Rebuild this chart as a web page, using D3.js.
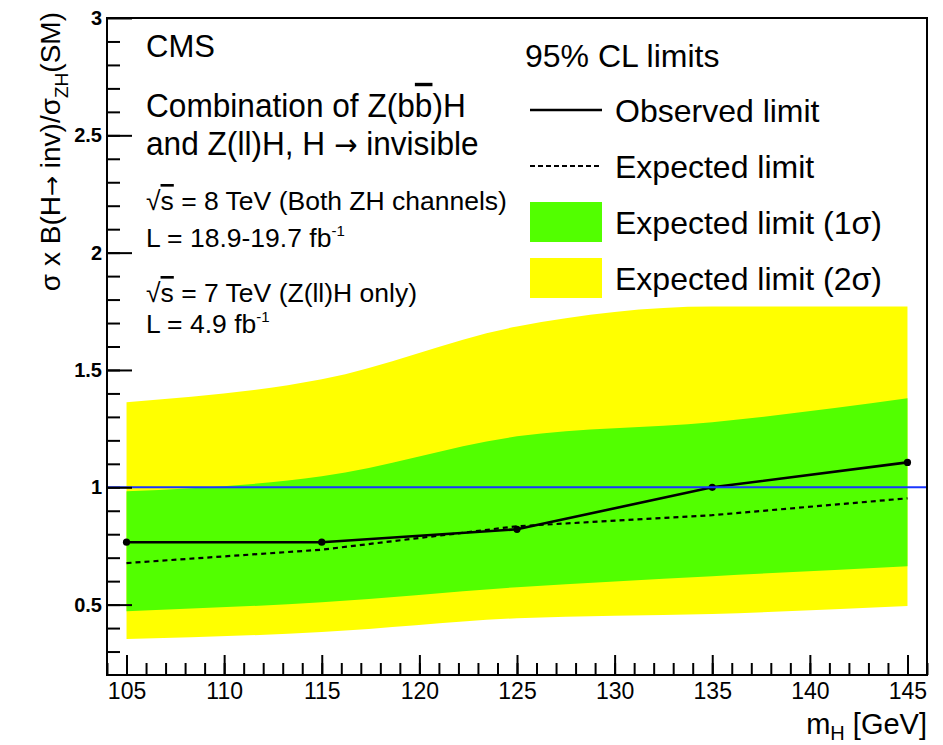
<!DOCTYPE html>
<html>
<head>
<meta charset="utf-8">
<script src="https://cdn.jsdelivr.net/npm/d3@7"></script>
<style>
  html, body { margin: 0; padding: 0; background: #fff; }
  svg { display: block; font-family: "Liberation Sans", Arial, Helvetica, sans-serif; }
</style>
</head>
<body>
<svg id="chart" width="943" height="745"></svg>
<script>
// Higgs mass hypotheses (GeV)
const massPoints = [105, 115, 125, 135, 145];
// 95% CL limits on sigma x B(H -> inv) / sigma_ZH(SM)
const observedLimit = [0.766, 0.766, 0.821, 1.0, 1.106];
const expectedLimit = [0.677, 0.734, 0.834, 0.881, 0.953];
const oneSigmaLow  = [0.472, 0.510, 0.574, 0.621, 0.664];
const oneSigmaHigh = [0.983, 1.047, 1.217, 1.277, 1.379];
const twoSigmaLow  = [0.353, 0.383, 0.442, 0.460, 0.494];
const twoSigmaHigh = [1.362, 1.460, 1.685, 1.770, 1.770];
const smLevel = 1;
// axis ticks
const xTickValues = [105, 110, 115, 120, 125, 130, 135, 140, 145];
const xTickLabels = ["105", "110", "115", "120", "125", "130", "135", "140", "145"];
const yTickValues = [0.5, 1, 1.5, 2, 2.5, 3];
const yTickLabels = ["0.5", "1", "1.5", "2", "2.5", "3"];

const svg = d3.select("#chart");
const frame = { left: 107, top: 18, right: 927, bottom: 675 };

const x = d3.scaleLinear().domain([104, 146]).range([frame.left, frame.right]);
const y = d3.scaleLinear().domain([0.2, 3]).range([frame.bottom, frame.top]);

const rows = massPoints.map((m, i) => ({
  m, obs: observedLimit[i], exp: expectedLimit[i],
  lo1: oneSigmaLow[i], hi1: oneSigmaHigh[i],
  lo2: twoSigmaLow[i], hi2: twoSigmaHigh[i]
}));

const plot = svg.append("g");

// uncertainty bands
const band = (lo, hi) => d3.area()
  .x(d => x(d.m)).y0(d => y(d[lo])).y1(d => y(d[hi]))
  .curve(d3.curveMonotoneX);

plot.append("path").datum(rows).attr("d", band("lo2", "hi2")).attr("fill", "#ffff00");
plot.append("path").datum(rows).attr("d", band("lo1", "hi1")).attr("fill", "#52ff00");

// expected limit
plot.append("path").datum(rows)
  .attr("d", d3.line().x(d => x(d.m)).y(d => y(d.exp)))
  .attr("fill", "none").attr("stroke", "#000").attr("stroke-width", 2.2)
  .attr("stroke-dasharray", "5,4");

// observed limit
plot.append("path").datum(rows)
  .attr("d", d3.line().x(d => x(d.m)).y(d => y(d.obs)))
  .attr("fill", "none").attr("stroke", "#000").attr("stroke-width", 2.6);
plot.selectAll("circle.obs").data(rows).enter().append("circle")
  .attr("class", "obs")
  .attr("cx", d => x(d.m)).attr("cy", d => y(d.obs)).attr("r", 3.6).attr("fill", "#000");

// SM reference line
plot.append("line")
  .attr("x1", frame.left).attr("x2", frame.right)
  .attr("y1", y(smLevel)).attr("y2", y(smLevel))
  .attr("stroke", "#1a35ff").attr("stroke-width", 2);

// axes
const yMinor = d3.range(3, 30).map(v => v / 10);
const xMinor = d3.range(104, 147);

svg.append("g").attr("transform", `translate(${frame.left},0)`)
  .call(d3.axisLeft(y).tickValues(yMinor).tickSize(-13).tickFormat(""))
  .call(g => g.select(".domain").remove())
  .call(g => g.selectAll("line").attr("stroke", "#000").attr("stroke-width", 2));

svg.append("g").attr("transform", `translate(${frame.left},0)`)
  .call(d3.axisLeft(y).tickValues(yTickValues).tickSize(-25).tickPadding(5)
    .tickFormat((d, i) => yTickLabels[i]))
  .call(g => g.select(".domain").remove())
  .call(g => g.selectAll("line").attr("stroke", "#000").attr("stroke-width", 2))
  .call(g => g.selectAll("text").attr("font-size", 20).attr("font-weight", 600)
    .attr("fill", "#000").attr("font-family", "'Liberation Sans', Arial, sans-serif"));

svg.append("g").attr("transform", `translate(0,${frame.bottom})`)
  .call(d3.axisBottom(x).tickValues(xMinor).tickSize(-12).tickFormat(""))
  .call(g => g.select(".domain").remove())
  .call(g => g.selectAll("line").attr("stroke", "#000").attr("stroke-width", 2));

svg.append("g").attr("transform", `translate(0,${frame.bottom})`)
  .call(d3.axisBottom(x).tickValues(xTickValues).tickSize(-20).tickPadding(8)
    .tickFormat((d, i) => xTickLabels[i]))
  .call(g => g.select(".domain").remove())
  .call(g => g.selectAll("line").attr("stroke", "#000").attr("stroke-width", 2))
  .call(g => g.selectAll("text").attr("font-size", 23)
    .attr("fill", "#000").attr("font-family", "'Liberation Sans', Arial, sans-serif"));

// frame
svg.append("rect")
  .attr("x", frame.left).attr("y", frame.top)
  .attr("width", frame.right - frame.left).attr("height", frame.bottom - frame.top)
  .attr("fill", "none").attr("stroke", "#000").attr("stroke-width", 2);

// axis titles
const xTitle = svg.append("text")
  .attr("x", frame.right).attr("y", 734)
  .attr("text-anchor", "end").attr("font-size", 29).attr("fill", "#000");
xTitle.append("tspan").text("m");
xTitle.append("tspan").attr("font-size", 20).attr("dy", 6).text("H");
xTitle.append("tspan").attr("dy", -6).text(" [GeV]");

const arrowFont = "'DejaVu Sans', 'Liberation Sans', sans-serif";

const yTitle = svg.append("text")
  .attr("transform", "translate(60,12) rotate(-90)")
  .attr("text-anchor", "end").attr("font-size", 28).attr("fill", "#000");
yTitle.append("tspan").text("σ x B(H");
yTitle.append("tspan").attr("font-family", arrowFont).attr("font-size", 24).text("→");
yTitle.append("tspan").text(" inv)/σ");
yTitle.append("tspan").attr("font-size", 19).attr("dy", 8).text("ZH");
yTitle.append("tspan").attr("dy", -8).text("(SM)");

// description text (slightly condensed lettering)
const info = svg.append("g").attr("fill", "#000");
const infoText = (yPos, size, squeeze) => info.append("text")
  .attr("transform", `translate(146,${yPos}) scale(${squeeze},1)`)
  .attr("font-size", size);

infoText(57, 31, 1).text("CMS");

const l1 = infoText(117, 34, 0.93);
l1.append("tspan").text("Combination of Z(b");
l1.append("tspan").style("text-decoration", "overline").text("b");
l1.append("tspan").text(")H");

const l2 = infoText(155, 34, 0.93);
l2.append("tspan").text("and Z(ll)H, H ");
l2.append("tspan").attr("font-family", arrowFont).attr("font-size", 30).text("→");
l2.append("tspan").text(" invisible");

function energyLine(yPos, energy, note) {
  const t = infoText(yPos, 26.5, 1);
  t.append("tspan").text("√");
  t.append("tspan").style("text-decoration", "overline").text("s");
  t.append("tspan").text(` = ${energy} TeV (${note})`);
}
function lumiLine(yPos, lumi) {
  const t = infoText(yPos, 26.5, 1);
  t.append("tspan").text(`L = ${lumi} fb`);
  t.append("tspan").attr("font-size", 15).attr("dy", -11).text("-1");
}
energyLine(210, 8, "Both ZH channels");
lumiLine(247, "18.9-19.7");
energyLine(302, 7, "Z(ll)H only");
lumiLine(333, "4.9");

// legend
const legend = svg.append("g").attr("fill", "#000");
legend.append("text").attr("x", 525).attr("y", 67).attr("font-size", 32).text("95% CL limits");

const legendItems = [
  { label: "Observed limit", kind: "solid" },
  { label: "Expected limit", kind: "dashed" },
  { label: "Expected limit (1σ)", kind: "box", color: "#52ff00" },
  { label: "Expected limit (2σ)", kind: "box", color: "#ffff00" }
];
legendItems.forEach((item, i) => {
  const cy = 110 + i * 56;
  if (item.kind === "box") {
    legend.append("rect").attr("x", 530).attr("y", cy - 20).attr("width", 72).attr("height", 40)
      .attr("fill", item.color);
  } else {
    legend.append("line").attr("x1", 530).attr("x2", 602).attr("y1", cy).attr("y2", cy)
      .attr("stroke", "#000").attr("stroke-width", item.kind === "solid" ? 2.4 : 2)
      .attr("stroke-dasharray", item.kind === "dashed" ? "5,3" : null);
  }
  legend.append("text").attr("x", 615).attr("y", cy + 12).attr("font-size", 32).text(item.label);
});
</script>
</body>
</html>
